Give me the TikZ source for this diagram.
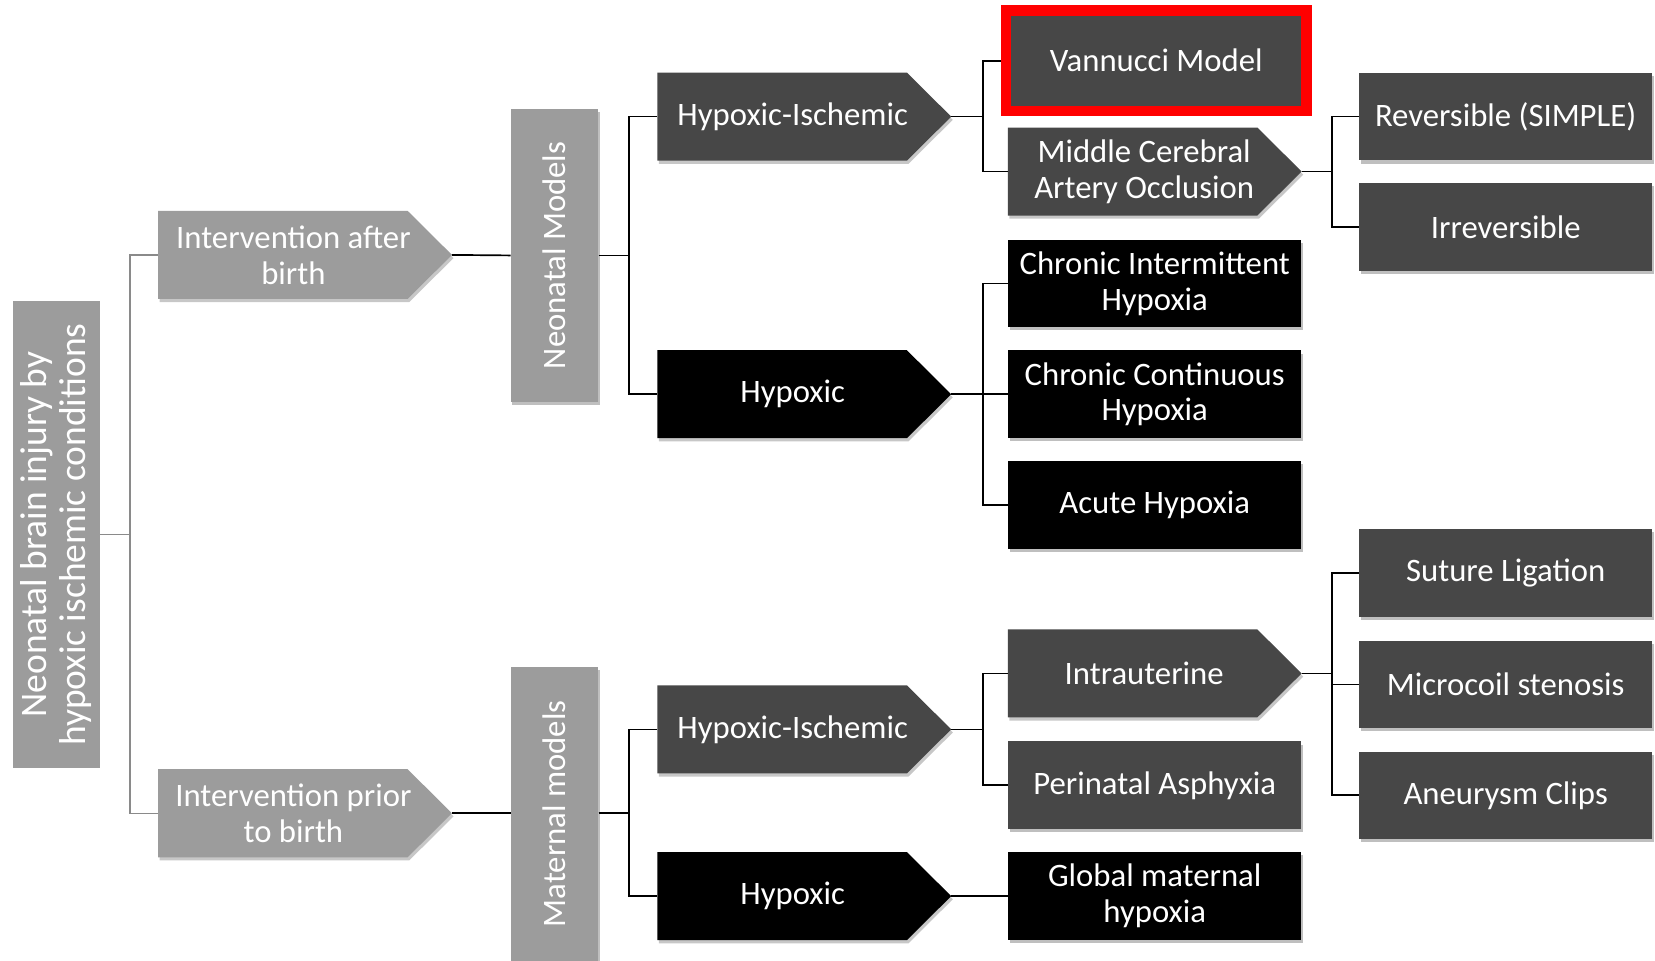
\documentclass[tikz,border=0pt]{standalone}
\usepackage{fontspec}
\setmainfont{Carlito}
\usetikzlibrary{shadows,calc}
\definecolor{lgray}{HTML}{9C9C9C}
\definecolor{dgray}{HTML}{474747}
\definecolor{rootline}{HTML}{8A8A8A}

\tikzset{
  lbl/.style={text=white, font=\fontsize{31}{34}\selectfont, align=center, inner sep=0pt},
  bshadow/.style={drop shadow={shadow xshift=1.5pt, shadow yshift=-3pt, opacity=0.25, fill=black}},
  rbox/.style={lbl, fill=#1, minimum width=278pt, minimum height=83pt, bshadow},
  vbox/.style={fill=#1, inner sep=0pt, minimum width=83pt},
  abox/.style={inner sep=0pt, minimum width=278pt, minimum height=83pt},
  conn/.style={line width=1.6pt, black},
  rconn/.style={line width=1.4pt, rootline},
}

\newcommand\arrowshape[3]{%
  \fill[black, opacity=0.22] ($(#1.north west)+(1.5,3)$) -- ($(#1.north east)+(1.5-#3,3)$) -- ($(#1.east)+(1.5,3)$) -- ($(#1.south east)+(1.5-#3,3)$) -- ($(#1.south west)+(1.5,3)$) -- cycle;
  \fill[#2] (#1.north west) -- ($(#1.north east)+(-#3,0)$) -- (#1.east) -- ($(#1.south east)+(-#3,0)$) -- (#1.south west) -- cycle;%
}

\begin{document}
\begin{tikzpicture}[x=1pt,y=-1pt]
\fill[white] (0,0) rectangle (1568,910);
\useasboundingbox (0,0) rectangle (1568,910);

% root
\node[vbox=lgray, minimum height=443pt] (R) at (53.5,506.5) {};
\node[lbl, rotate=90, font=\fontsize{35.5}{37}\selectfont] (Rt) at (R) {Neonatal brain injury by\\hypoxic ischemic conditions};

% level 1
\node[abox] (I1) at (289,241.5) {};
\arrowshape{I1}{lgray}{42}
\node[lbl] (I1t) at ($(I1)+(-11,0)$) {Intervention after\\birth};
\node[abox] (I2) at (289,770.5) {};
\arrowshape{I2}{lgray}{42}
\node[lbl] (I2t) at ($(I2)+(-11,0)$) {Intervention prior\\to birth};

% level 2
\node[vbox=lgray, minimum height=278pt, bshadow] (NM) at (525.5,242) {};
\node[lbl, rotate=90] (NMt) at (NM) {Neonatal Models};
\node[vbox=lgray, minimum height=282pt, bshadow] (MM) at (525.5,773) {};
\node[lbl, rotate=90] (MMt) at (525.5,771) {Maternal models};

% level 3
\node[abox] (HI1) at (762,110.5) {};
\arrowshape{HI1}{dgray}{42}
\node[lbl] (HI1t) at ($(HI1)+(-11,0)$) {Hypoxic-Ischemic};
\node[abox] (HY1) at (762,373.5) {};
\arrowshape{HY1}{black}{42}
\node[lbl] (HY1t) at ($(HY1)+(-11,0)$) {Hypoxic};
\node[abox] (HI2) at (762,691) {};
\arrowshape{HI2}{dgray}{42}
\node[lbl] (HI2t) at ($(HI2)+(-11,0)$) {Hypoxic-Ischemic};
\node[abox] (HY2) at (762,849) {};
\arrowshape{HY2}{black}{42}
\node[lbl] (HY2t) at ($(HY2)+(-11,0)$) {Hypoxic};

% level 4
\node[lbl, fill=dgray, draw=red, line width=10pt, minimum width=285pt, minimum height=95pt] (VM) at (1095.5,57.5) {Vannucci Model};
\node[abox] (MC) at (1094,162.5) {};
\arrowshape{MC}{dgray}{42}
\node[lbl] (MCt) at ($(MC)+(-10,0)$) {Middle Cerebral\\Artery Occlusion};
\node[rbox=black] (CI) at (1094,268.5) {Chronic Intermittent\\Hypoxia};
\node[rbox=black] (CC) at (1094,373.5) {Chronic Continuous\\Hypoxia};
\node[rbox=black] (AH) at (1094,478.5) {Acute Hypoxia};
\node[abox] (IU) at (1094,638) {};
\arrowshape{IU}{dgray}{42}
\node[lbl] (IUt) at ($(IU)+(-10,0)$) {Intrauterine};
\node[rbox=dgray] (PA) at (1094,744) {Perinatal Asphyxia};
\node[rbox=black] (GM) at (1094,849) {Global maternal\\hypoxia};

% level 5
\node[rbox=dgray] (RV) at (1426.5,110.5) {Reversible (SIMPLE)};
\node[rbox=dgray] (IR) at (1426.5,215) {Irreversible};
\node[rbox=dgray] (SL) at (1426.5,543) {Suture Ligation};
\node[rbox=dgray] (MS) at (1426.5,648.5) {Microcoil stenosis};
\node[rbox=dgray] (AC) at (1426.5,753.5) {Aneurysm Clips};

% connectors
\draw[rconn] (R.east) -- ++(28,0) |- (I1.west);
\draw[rconn] (R.east) -- ++(28,0) |- (I2.west);
\draw[conn] (I1.east) -- (NM.west);
\draw[conn] (I2.east) -- (MM.west |- I2.east);
\draw[conn] (NM.east) -- ++(29,0) |- (HI1.west);
\draw[conn] (NM.east) -- ++(29,0) |- (HY1.west);
\draw[conn] (MM.east |- I2.east) -- ++(29,0) |- (HI2.west);
\draw[conn] (MM.east |- I2.east) -- ++(29,0) |- (HY2.west);
\draw[conn] (HI1.east) -- ++(30,0) |- (VM.west);
\draw[conn] (HI1.east) -- ++(30,0) |- (MC.west);
\draw[conn] (HY1.east) -- ++(30,0) |- (CI.west);
\draw[conn] (HY1.east) -- (CC.west);
\draw[conn] (HY1.east) -- ++(30,0) |- (AH.west);
\draw[conn] (HI2.east) -- ++(30,0) |- (IU.west);
\draw[conn] (HI2.east) -- ++(30,0) |- (PA.west);
\draw[conn] (HY2.east) -- (GM.west);
\draw[conn] (MC.east) -- ++(29,0) |- (RV.west);
\draw[conn] (MC.east) -- ++(29,0) |- (IR.west);
\draw[conn] (IU.east) -- ++(29,0) |- (SL.west);
\draw[conn] (IU.east) -- ++(29,0) |- (MS.west);
\draw[conn] (IU.east) -- ++(29,0) |- (AC.west);
\end{tikzpicture}
\end{document}
